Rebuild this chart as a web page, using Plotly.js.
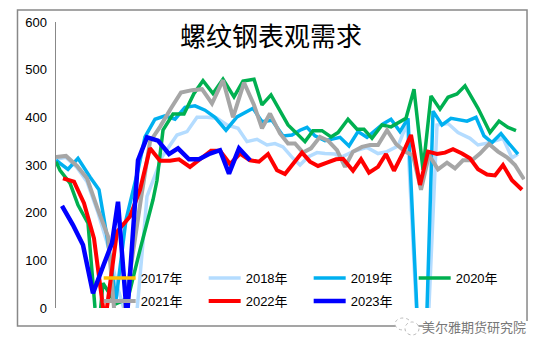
<!DOCTYPE html>
<html>
<head>
<meta charset="utf-8">
<script src="https://cdn.plot.ly/plotly-3.0.1.min.js"></script>
<style>html,body{margin:0;padding:0;background:#fff}</style>
</head>
<body>
<div id="chart" style="width:545px;height:352px"></div>
<script>
// x values: position along the (unlabelled) date axis for each year
var x2017 = [0];
var y2017 = [null];
var x2018 = [0,10,21,31,42,52,62,72,80,91,101,106,121,131,141,151,161,171,182,191,201,211,219,227,237,244,252,261,269,279,286,297,311,322,331,342,351,367,381,392,402,414,422,434,447,456,462];
var y2018 = [312,316,295,265,200,130,40,-30,-30,234,289,317,363,370,400,400,398,384,377,349,354,342,345,338,314,300,317,326,324,323,317,328,337,324,328,340,387,-280,384,387,368,356,342,347,356,315,323];
var x2019 = [0,12,22,34,43,51,60,70,82,89,99,109,119,129,139,149,159,170,181,197,206,216,227,236,244,251,259,269,284,293,302,311,327,335,344,352,367,377,386,395,411,420,428,436,445,453,462];
var y2019 = [310,291,314,275,248,150,17,185,289,359,396,403,396,421,424,415,400,373,401,419,391,394,361,363,373,379,361,351,358,340,370,358,386,396,370,398,-280,413,384,398,392,400,361,347,366,345,323];
var x2020 = [0,4,14,22,32,39,42,47,60,72,84,97,101,107,117,128,138,147,157,167,178,187,198,206,215,232,239,249,257,266,275,282,292,301,308,316,326,335,350,358,367,375,384,392,401,409,422,434,443,452,460];
var y2020 = [307,289,262,216,178,0,-60,52,9,20,122,227,268,373,407,407,450,477,450,480,443,476,480,426,447,384,370,349,372,372,359,368,396,375,375,356,384,380,398,459,290,445,417,442,449,466,419,368,392,379,372];
var x2021 = [0,10,21,31,42,52,62,73,85,94,104,115,125,136,146,156,167,177,188,198,206,214,224,232,239,247,255,264,272,281,289,297,306,314,322,331,340,349,357,365,373,382,391,399,407,416,424,433,442,451,459,468];
var y2021 = [317,319,298,272,206,150,-100,60,230,349,380,419,452,457,459,429,478,400,473,426,377,408,366,345,345,326,335,359,351,331,296,328,338,342,342,373,344,328,320,248,321,291,305,293,310,310,324,344,328,316,300,270];
var x2022 = [7,18,28,38,49,61,74,84,94,104,114,123,134,144,155,164,174,184,194,203,212,221,229,246,254,262,271,280,287,297,305,313,322,330,338,346,355,364,372,381,389,397,406,414,422,431,439,447,456,466];
var y2022 = [272,265,220,146,-30,160,192,248,335,309,309,312,296,312,330,330,302,324,310,307,323,289,281,326,307,298,305,312,313,288,312,284,296,323,288,321,363,258,328,323,326,333,324,314,291,280,278,300,268,248];
var x2023 = [6,17,27,37,47,56,62,71,82,91,102,113,122,133,143,154,164,173,183,194];
var y2023 = [214,174,132,31,87,136,223,-20,310,358,351,323,335,312,312,324,331,282,335,310];
var yearNames = ['2017年','2018年','2019年','2020年','2021年','2022年','2023年'];
var yearColors = ['#FFC000','#B4DCFF','#00B0F0','#00B050','#A6A6A6','#FF0000','#0000FF'];
var yearWidths = [3.5,3.5,3.5,3.5,4,4,4.5];
var tickValues = [0,100,200,300,400,500,600];

var xs = [x2017,x2018,x2019,x2020,x2021,x2022,x2023];
var ys = [y2017,y2018,y2019,y2020,y2021,y2022,y2023];
var traces = yearNames.map(function(n,i){
  return {type:'scatter',mode:'lines',name:n,x:xs[i],y:ys[i],showlegend:true,
    legend:i<4?'legend':'legend2',
    line:{color:yearColors[i],width:yearWidths[i],shape:'linear',simplify:false}};
});
var legendCommon = {orientation:'h',xanchor:'left',yanchor:'middle',x:0.091,
  bgcolor:'rgba(0,0,0,0)',borderwidth:0,itemwidth:32,entrywidth:58,entrywidthmode:'pixels',
  itemclick:false,font:{family:'Liberation Sans, "Noto Sans CJK SC"',size:13,color:'#000'}};
var frame = {type:'rect',xref:'paper',yref:'paper',x0:-0.0821,x1:1.0043,y0:-0.0629,y1:1.042,
  line:{color:'#888',width:1.5},layer:'below'};
var layout = {
  width:545,height:352,
  margin:{l:56,r:20,t:22,b:44,pad:0},
  paper_bgcolor:'#fff',plot_bgcolor:'rgba(0,0,0,0)',
  title:{text:'螺纹钢表观需求',x:271/545,xanchor:'center',xref:'container',
    y:1-37/352,yanchor:'middle',yref:'container',
    font:{family:'"Noto Sans CJK SC"',size:26,color:'#000'}},
  xaxis:{range:[0,469],showgrid:false,zeroline:false,showticklabels:false,ticks:'',showline:false,fixedrange:true},
  yaxis:{range:[0,600],tickvals:tickValues,ticktext:tickValues.map(String),showgrid:false,zeroline:false,
    showline:true,linecolor:'#888',linewidth:1.5,ticks:'',ticklabelstandoff:5,
    tickfont:{family:'Liberation Sans',size:13,color:'#000'},fixedrange:true},
  legend:Object.assign({y:(308-278)/286},legendCommon),
  legend2:Object.assign({y:(308-301)/286},legendCommon),
  shapes:[frame,
    {type:'rect',xref:'paper',yref:'paper',x0:(424-56)/469,x1:(530-56)/469,y0:(308-334)/286,y1:(308-321)/286,
      fillcolor:'#fff',line:{width:0},layer:'above'},
    {type:'circle',xref:'paper',yref:'paper',x0:(395-56)/469,x1:(411-56)/469,y0:(308-330)/286,y1:(308-318)/286,
      fillcolor:'#fff',line:{color:'#bbb',width:1,dash:'dot'},layer:'above'},
    {type:'circle',xref:'paper',yref:'paper',x0:(405-56)/469,x1:(419-56)/469,y0:(308-335)/286,y1:(308-322)/286,
      fillcolor:'#fff',line:{color:'#bbb',width:1,dash:'dot'},layer:'above'}
  ],
  annotations:[{text:'美尔雅期货研究院',xref:'paper',yref:'paper',x:(527-56)/469,xanchor:'right',
    y:(308-326)/286,yanchor:'middle',showarrow:false,borderpad:0,
    font:{family:'"Noto Sans CJK SC"',size:13,color:'#777'}}]
};
Plotly.newPlot('chart',traces,layout,{displayModeBar:false,staticPlot:true});
</script>
</body>
</html>
